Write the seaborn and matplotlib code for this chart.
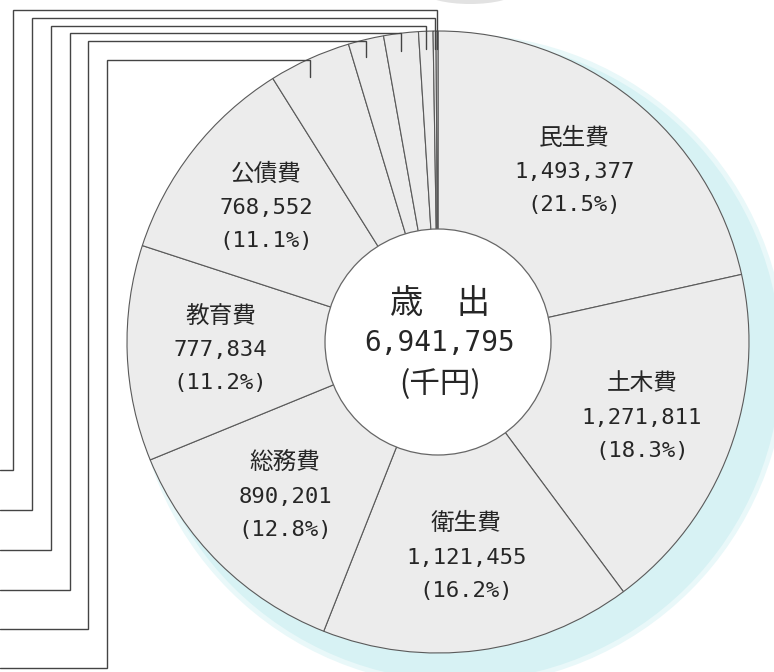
import matplotlib
matplotlib.use("Agg")
import matplotlib.pyplot as plt
from matplotlib.patches import Circle, Ellipse
import numpy as np
import seaborn as sns

sns.set_theme(style="white")
plt.rcParams['font.family'] = ['Noto Sans CJK JP', 'DejaVu Sans']

# 歳出 (千円), 12時の位置から時計回り
categories = ["民生費", "土木費", "衛生費", "総務費", "教育費", "公債費",
              "消防費", "農林水産業費", "商工費", "議会費", "災害復旧費", "諸支出金"]
values = [1493377, 1271811, 1121455, 890201, 777834, 768552,
          296000, 128000, 125000, 52000, 10500, 7065]
n_inside = 6   # 円の中に名前がある費目
center_title = "歳　出"
center_unit = "(千円)"

W, H = 774, 672


def py(y):
    # 画像の上からのピクセル -> データ座標
    return H - y


cx, cy, R, r_in = 438, py(342), 311, 113

fig = plt.figure(figsize=(W / 100, H / 100), dpi=100)
ax = fig.add_axes([0, 0, 1, 1])

# 影
ax.add_patch(Circle((cx + 22, cy - 18), R + 15, color='#e9f8f9', lw=0, zorder=0))
ax.add_patch(Circle((cx + 22, cy - 18), R + 10, color='#d7f2f4', lw=0, zorder=0.5))
ax.add_patch(Ellipse((470, py(-8)), 90, 24, color='#e2e2e2', lw=0, zorder=0))

wedges, _ = ax.pie(values, startangle=90, counterclock=False,
                   center=(cx, cy), radius=R, frame=True,
                   colors=['#ececec'] * len(values),
                   wedgeprops=dict(edgecolor='#5a5a5a', linewidth=0.8))
for w in wedges:
    w.set_zorder(1)

ax.add_patch(Circle((cx, cy), r_in, fc='white', ec='#666666', lw=0.9, zorder=3))

total = sum(values)
txt = '#262626'
for w, name, v in zip(wedges[:n_inside], categories, values):
    m = np.deg2rad((w.theta1 + w.theta2) / 2)
    x = cx + 0.70 * R * np.cos(m)
    y = cy + 0.70 * R * np.sin(m)
    ax.text(x, y + 34, name, ha='center', va='center', fontsize=17, color=txt, zorder=6)
    ax.text(x, y, f"{v:,}", ha='center', va='center', fontsize=16, color=txt,
            family='DejaVu Sans Mono', zorder=6)
    ax.text(x, y - 33, f"({v / total * 100:.1f}%)", ha='center', va='center',
            fontsize=16, color=txt, family='DejaVu Sans Mono', zorder=6)

ax.text(cx + 2, py(303), center_title, ha='center', va='center', fontsize=24, color=txt, zorder=6)
ax.text(cx + 2, py(343), f"{total:,}", ha='center', va='center', fontsize=20, color=txt,
        family='DejaVu Sans Mono', zorder=6)
ax.text(cx + 2, py(385), center_unit, ha='center', va='center', fontsize=22, color=txt, zorder=6)

# 小さい費目の引出線 (名前は画像の外)
top_y = [60, 41, 33, 26, 18, 10]
left_x = [107, 88, 70, 51, 32, 13]
bottom_y = [668, 629, 590, 550, 510, 470]
for w, ty, lx, by in zip(wedges[n_inside:], top_y, left_x, bottom_y):
    m = np.deg2rad((w.theta1 + w.theta2) / 2)
    ex = cx + R * np.cos(m)
    ey = cy + R * np.sin(m)
    ax.plot([0, lx, lx, ex, ex], [py(by), py(by), py(ty), py(ty), ey - 18],
            color='#444444', lw=1, zorder=5, solid_joinstyle='miter')

ax.set_xlim(0, W)
ax.set_ylim(0, H)
ax.set_aspect('equal')
ax.axis('off')

fig.savefig("out.png", dpi=100, facecolor='white')
